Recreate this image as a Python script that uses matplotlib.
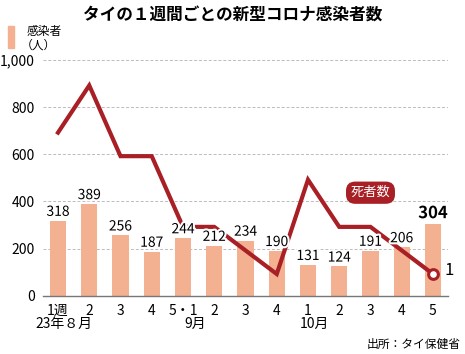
import numpy as np
import matplotlib
matplotlib.use("Agg")
import matplotlib.pyplot as plt
import matplotlib.patheffects as pe
import matplotlib.transforms as mtransforms
from matplotlib.patches import Rectangle

plt.rcParams['font.family'] = ['Noto Sans CJK JP', 'DejaVu Sans']

weeks = ['1週', '2', '3', '4', '5・1', '2', '3', '4', '1', '2', '3', '4', '5']
cases = [318, 389, 256, 187, 244, 212, 234, 190, 131, 124, 191, 206, 304]
deaths = [7, 9, 6, 6, 3, 3, 2, 1, 5, 3, 3, 2, 1]
months = [('23年８月', 0.2), ('9月', 4.4), ('10月', 8.2)]

BAR = '#f4b192'
RED = '#a81f25'

fig = plt.figure(figsize=(4.65, 3.54), dpi=100)
ax = fig.add_axes([0.0925, 0.1647, 0.8709, 0.6658])
x = np.arange(len(cases))

ax.bar(x, cases, width=0.52, color=BAR, zorder=2)
ax.set_xlim(-0.48, 12.48)
ax.set_ylim(0, 1000)
ax.set_yticks([0, 200, 400, 600, 800, 1000])
ax.set_yticklabels(['0', '200', '400', '600', '800', '1,000'], fontsize=10)
ax.grid(axis='y', color='#bbbbbb', linestyle=(0, (3, 2)), linewidth=0.7, zorder=0)
for s in ['left', 'right', 'top']:
    ax.spines[s].set_visible(False)
ax.spines['bottom'].set_color('#777777')
ax.spines['bottom'].set_linewidth(1.0)
ax.tick_params(axis='both', length=0, pad=6)
ax.set_xticks(x)
ax.set_xticklabels(weeks, fontsize=10)

trans = mtransforms.blended_transform_factory(ax.transData, ax.transAxes)
for m, xm in months:
    ax.text(xm, -0.09, m, transform=trans, ha='center', va='top', fontsize=10)

# deaths line on its own scale
ax2 = ax.twinx()
ax2.set_ylim(0.08, 10.08)
ax2.axis('off')
ax2.plot(x, deaths, color=RED, linewidth=3.0, solid_joinstyle='miter', zorder=3)
ax2.plot(x[-1], deaths[-1], 'o', markersize=7, markerfacecolor='white',
         markeredgecolor=RED, markeredgewidth=2.2, zorder=4)
ax2.text(x[-1] + 0.38, deaths[-1] + 0.15, str(deaths[-1]), fontsize=12,
         ha='left', va='center')
ax2.text(10.0, 4.45, '死者数', color='white', fontsize=9.5, ha='center', va='center',
         bbox=dict(boxstyle='round,pad=0.35,rounding_size=0.7', fc=RED, ec='none'))

# bar labels above everything
halo = [pe.withStroke(linewidth=3, foreground='white')]
for xi, v in zip(x, cases):
    big = xi == len(cases) - 1
    ax2.text(xi, (v + 16) / 100, str(v), ha='center', va='bottom',
             fontsize=12 if big else 10, fontweight='bold' if big else 'normal',
             path_effects=halo, zorder=5)

fig.text(0.5, 0.955, 'タイの１週間ごとの新型コロナ感染者数', ha='center', va='center',
         fontsize=12, fontweight='bold')
fig.patches.append(Rectangle((8 / 465, 1 - 48 / 354), 6 / 465, 22 / 354,
                             transform=fig.transFigure, color=BAR))
fig.text(27 / 465, 1 - 32 / 354, '感染者', fontsize=8.5, va='center', ha='left')
fig.text(21 / 465, 1 - 45 / 354, '（人）', fontsize=8.5, va='center', ha='left')
fig.text(0.99, 0.028, '出所：タイ保健省', fontsize=8.5, ha='right', va='center')

fig.savefig('out.png', dpi=100)
